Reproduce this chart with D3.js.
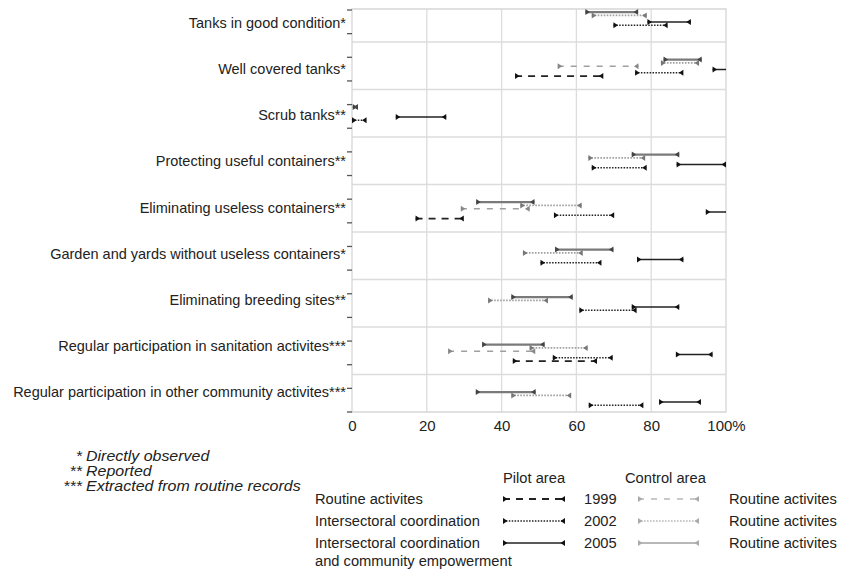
<!DOCTYPE html>
<html><head><meta charset="utf-8">
<script src="https://cdn.jsdelivr.net/npm/d3@7"></script>
<style>
body{margin:0;background:#fff;}
svg{display:block;font-family:"Liberation Sans",Arial,Helvetica,sans-serif;}
</style></head>
<body><svg id="chart" width="845" height="570"></svg>
<script>
const categories = [
  "Tanks in good condition*",
  "Well covered tanks*",
  "Scrub tanks**",
  "Protecting useful containers**",
  "Eliminating useless containers**",
  "Garden and yards without useless containers*",
  "Eliminating breeding sites**",
  "Regular participation in sanitation activites***",
  "Regular participation in other community activites***"
];
// [low, high] per category (null = not shown)
const control2005 = [[62.4,76.5],[83.3,93.5],[0.2,1.6],[74.8,87.5],[33.2,48.8],[54.3,69.9],[42.6,59],[34.8,51.5],[33.1,49.1]];
const control2002 = [[64.1,78.8],[82.6,92.8],null,[63.2,78.4],[45,61.4],[45.7,61.7],[36.4,52.4],[47.5,63],[42.6,58.6]];
const control1999 = [null,[55,76.6],null,null,[29.1,47.5],null,null,[25.7,49],null];
const pilot2005   = [[79,90.6],[96.4,101],[11.7,25.2],[86.8,100],[94.6,101],[76.2,88.6],[74.8,87.5],[86.6,96.4],[82.1,93.3]];
const pilot2002   = [[69.9,84.4],[75.7,88.6],[0,3.9],[64.1,78.8],[54,70.1],[50.4,66.7],[60.8,76.1],[53.7,69.7],[63.3,77.9]];
const pilot1999   = [null,[43.6,67.2],null,null,[17,29.9],null,null,[43,65.5],null];

const xTicks = [0,20,40,60,80,100];
const footnotes = [["*","Directly observed"],["**","Reported"],["***","Extracted from routine records"]];
const legendYears = ["1999","2002","2005"];
const legendPilotLabels = [["Routine activites"],["Intersectoral coordination"],["Intersectoral coordination","and community empowerment"]];
const legendControlLabels = ["Routine activites","Routine activites","Routine activites"];

// styles
const styles = {
  c2005:{stroke:"#7a7a7a", width:2.2, dash:null, mark:"#444"},
  c2002:{stroke:"#a0a0a0", width:1.6, dash:"1.6,1.4", mark:"#777"},
  c1999:{stroke:"#a0a0a0", width:1.6, dash:"6,7", mark:"#888"},
  p2005:{stroke:"#222", width:1.5, dash:null, mark:"#111"},
  p2002:{stroke:"#222", width:1.6, dash:"1.5,1.4", mark:"#111"},
  p1999:{stroke:"#222", width:1.8, dash:"7,6", mark:"#111"}
};
const series = [
  {key:"c2005", values:control2005},
  {key:"c2002", values:control2002},
  {key:"c1999", values:control1999},
  {key:"p2005", values:pilot2005},
  {key:"p2002", values:pilot2002},
  {key:"p1999", values:pilot1999}
];

const svg = d3.select("#chart");
const L = 352, R = 726, T = 9, B = 412;
const x = d3.scaleLinear().domain([0,100]).range([L,R]);
const band = d3.scaleBand().domain(categories).range([-5.5, -5.5 + 47.5*categories.length]).paddingInner(0).paddingOuter(0);
const rowScale = d3.scaleBand().domain(series.map(s=>s.key)).range([17.6, 17.6 + 3.3*6]);
const labelScale = d3.scalePoint().domain(categories).range([23, 392]);

// gridlines
const g = svg.append("g");
g.selectAll(".vg").data(xTicks.slice(1,-1)).join("line")
  .attr("x1",d=>x(d)).attr("x2",d=>x(d)).attr("y1",T).attr("y2",B)
  .attr("stroke","#dcdcdc").attr("stroke-width",1.3);
g.selectAll(".hg").data(categories.slice(1)).join("line")
  .attr("x1",L).attr("x2",R).attr("y1",d=>band(d)).attr("y2",d=>band(d))
  .attr("stroke","#dcdcdc").attr("stroke-width",1.3);
// frame
g.append("path").attr("d",`M${L},${T}H${R}V${B}H${L}Z`).attr("fill","none").attr("stroke","#d6d6d6").attr("stroke-width",1.3);

// y ticks
const yTick = d3.scaleLinear().domain([0,17]).range([10,412]);
g.selectAll(".yt").data(d3.range(18)).join("line")
  .attr("x1",347).attr("x2",352).attr("y1",d=>yTick(d)).attr("y2",d=>yTick(d))
  .attr("stroke","#555").attr("stroke-width",1.3);

// category labels
g.selectAll(".cl").data(categories).join("text")
  .attr("x",346).attr("y",d=>labelScale(d)).attr("dy","0.35em")
  .attr("text-anchor","end").attr("font-size","14.5px").attr("fill","#222")
  .text(d=>d);

// x axis labels
const xa = svg.append("g").attr("transform",`translate(0,${B})`)
  .call(d3.axisBottom(x).tickValues(xTicks).tickSize(0).tickPadding(8).tickFormat(d=>d===100?"100%":d));
xa.select(".domain").remove();
xa.selectAll("text").attr("font-size","15px").attr("fill","#222").attr("font-family","Liberation Sans, Arial, sans-serif");

// clip
svg.append("clipPath").attr("id","clip").append("rect").attr("x",340).attr("y",T).attr("width",R-340).attr("height",B-T);

function drawSeg(sel, x0, x1, y, st){
  sel.append("line").attr("x1",x0).attr("x2",x1).attr("y1",y).attr("y2",y)
    .attr("stroke",st.stroke).attr("stroke-width",st.width).attr("stroke-dasharray",st.dash);
  sel.append("path").attr("d",`M${x0},${y-3}L${x0+4.5},${y}L${x0},${y+3}Z`).attr("fill",st.mark);
  sel.append("path").attr("d",`M${x1},${y-3}L${x1-4.5},${y}L${x1},${y+3}Z`).attr("fill",st.mark);
}

const plot = svg.append("g").attr("clip-path","url(#clip)");
series.forEach(s=>{
  s.values.forEach((v,i)=>{
    if(!v) return;
    const y = band(categories[i]) + rowScale(s.key);
    drawSeg(plot.append("g"), x(v[0]), x(v[1]), y, styles[s.key]);
  });
});

// footnotes (slightly widened glyphs to match the reference's wider type)
const fn = svg.append("g").attr("font-style","italic").attr("font-size","14px").attr("fill","#222");
const widen = 1.14;
footnotes.forEach((f,i)=>{
  const y = 456.5 + i*15;
  const a = fn.append("text").attr("x",82).attr("y",y).attr("dy","0.35em").attr("text-anchor","end").text(f[0]);
  const t = fn.append("text").attr("x",86).attr("y",y).attr("dy","0.35em").text(f[1]);
  [a,t].forEach(sel=>{
    const len = sel.node().getComputedTextLength();
    sel.attr("textLength", len*widen).attr("lengthAdjust","spacingAndGlyphs");
  });
});

// legend
const lg = svg.append("g").attr("font-size","14.7px").attr("fill","#222");
lg.append("text").attr("x",503).attr("y",478).attr("dy","0.35em").text("Pilot area");
lg.append("text").attr("x",625).attr("y",478).attr("dy","0.35em").text("Control area");
const pilotKeys = ["p1999","p2002","p2005"], ctrlKeys = ["c1999","c2002","c2005"];
legendYears.forEach((yr,i)=>{
  const y = 499 + i*22;
  legendPilotLabels[i].forEach((t,j)=>{
    lg.append("text").attr("x",315).attr("y",y + j*18).attr("dy","0.35em").text(t);
  });
  drawSeg(lg.append("g"), 503, 565, y, styles[pilotKeys[i]]);
  lg.append("text").attr("x",584).attr("y",y).attr("dy","0.35em").text(yr);
  const cs = Object.assign({}, styles[ctrlKeys[i]], {stroke:"#b8b8b8", mark:"#aaa"});
  drawSeg(lg.append("g"), 638, 699, y, cs);
  lg.append("text").attr("x",729).attr("y",y).attr("dy","0.35em").text(legendControlLabels[i]);
});
</script></body></html>
